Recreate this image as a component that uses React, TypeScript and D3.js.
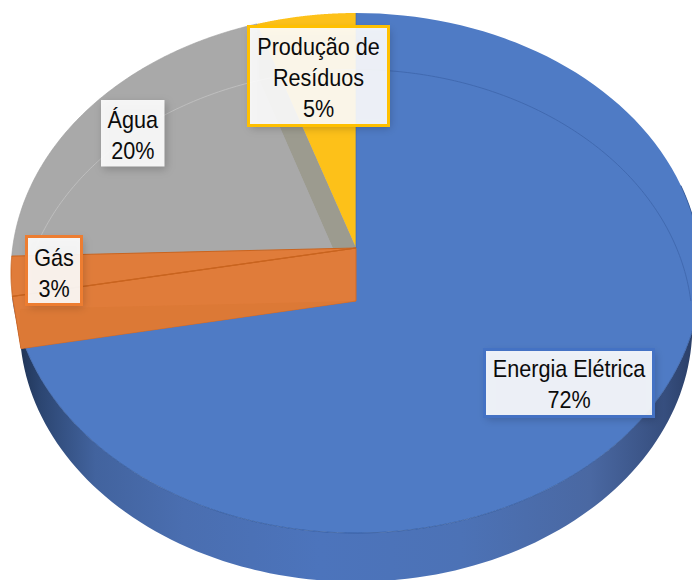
import React from "react";
import * as d3 from "d3";

const categories = ["Energia Elétrica", "Gás", "Água", "Produção de Resíduos"];
const shares = [72.05, 2.45, 20.4, 5.1];
const percentLabels = ["72%", "3%", "20%", "5%"];
const colors = ["#4f7bc5", "#e07c3a", "#a9a9a9", "#fdc119"];
const borders = ["#4472c4", "#ed7d31", "#a5a5a5", "#ffc000"];
const labelLines = [["Energia Elétrica"], ["Gás"], ["Água"], ["Produção de", "Resíduos"]];

const width = 692;
const height = 580;

// pie seen in perspective: nearer points get bigger
const apex = { x: 356, y: 248 };
const depth = 53;
const k = 0.0962;

const project = (angle: number, r = 1, lower = false) => {
  const x = Math.sin(angle) * r;
  const y = -Math.cos(angle) * r;
  const w = 1 - k * y;
  const shrinkX = lower ? 0.975 : 1;
  const shrinkY = lower ? 0.985 : 1;
  return [
    apex.x + (343.4 * shrinkX * x) / w,
    apex.y + (lower ? depth : 0) + (257.6 * shrinkY * y) / w,
  ] as [number, number];
};

const line = d3.line();
const arcPoints = (a0: number, a1: number, lower = false) =>
  d3.range(0, 121).map((i) => project(a0 + ((a1 - a0) * i) / 120, 1, lower));

const App = () => {
  const arcs = d3.pie<number>().sort(null)(shares);
  const [blue, orange, grey, yellow] = arcs;

  const wedge = (d: d3.PieArcDatum<number>, lower = false) => [
    project(0, 0, lower),
    ...arcPoints(d.startAngle, d.endAngle, lower),
  ];

  const wallStart = Math.PI * 0.42;
  const wall = [
    ...arcPoints(wallStart, blue.endAngle),
    ...arcPoints(wallStart, blue.endAngle, true).reverse(),
  ];

  // cut faces seen through the top of the pie
  const greyWall = [
    project(0, 0),
    project(0, 0, true),
    project(grey.endAngle, 1, true),
    project(grey.endAngle),
  ];
  const orangeWall = [
    project(0, 0),
    project(0, 0, true),
    project(blue.endAngle, 1, true),
    project(blue.endAngle),
  ];

  const boxes = [
    { x: 484.5, y: 349.5, w: 169, h: 67, first: 377, step: 31 },
    { x: 26.5, y: 236.5, w: 55, h: 68, first: 266, step: 31 },
    { x: 101, y: 100, w: 63.5, h: 66.5, first: 128, step: 31 },
    { x: 248.5, y: 26.5, w: 140, h: 99, first: 55, step: 31 },
  ];

  return (
    <svg
      width={width}
      height={height}
      style={{ position: "absolute", left: 0, top: 0, background: "#fff" }}
    >
      <defs>
        <linearGradient id="side" gradientUnits="userSpaceOnUse" x1={14} x2={692} y1={0} y2={0}>
          <stop offset="0" stopColor="#1d3050" />
          <stop offset="0.04" stopColor="#2c4672" />
          <stop offset="0.12" stopColor="#42639e" />
          <stop offset="0.25" stopColor="#4a6eb0" />
          <stop offset="0.45" stopColor="#4c74bc" />
          <stop offset="0.66" stopColor="#4c72b6" />
          <stop offset="0.85" stopColor="#4a68a2" />
          <stop offset="0.96" stopColor="#364e7e" />
          <stop offset="1" stopColor="#2b3f68" />
        </linearGradient>
        <filter id="soft" x="-20%" y="-20%" width="140%" height="140%">
          <feGaussianBlur stdDeviation="4" />
        </filter>
      </defs>

      <path d={line(wall) + "Z"} fill="url(#side)" />

      <path d={line(wedge(grey)) + "Z"} fill={colors[2]} stroke="#9c9c9c" strokeWidth={0.6} />
      <path d={line(wedge(yellow)) + "Z"} fill={colors[3]} />
      <path d={line(greyWall) + "Z"} fill="#9c9b8f" />
      <path d={line(wedge(grey, true)) + "Z"} fill={colors[2]} />
      <path d={line(wedge(blue)) + "Z"} fill={colors[0]} />
      <path
        d={line(arcPoints(orange.endAngle + 0.06, Math.PI * 2, true)) ?? ""}
        fill="none"
        stroke="#c8c8c8"
        strokeOpacity={0.7}
      />
      <path
        d={line(arcPoints(0, Math.PI * 0.5, true)) ?? ""}
        fill="none"
        stroke="#3f67ad"
        strokeOpacity={0.9}
      />
      <path d={line(arcPoints(wallStart, blue.endAngle)) ?? ""} fill="none" stroke="#2f5597" strokeOpacity={0.7} />
      <path d={line([project(0, 0), project(0, 1)]) ?? ""} stroke="#3c64aa" strokeOpacity={0.6} />

      <path d={line(orangeWall) + "Z"} fill={colors[1]} stroke="#d06a28" strokeWidth={1} />
      <path d={line(wedge(orange)) + "Z"} fill={colors[1]} stroke="#c9641f" strokeWidth={1} />
      <path d={line(wedge(orange, true)) + "Z"} fill="#dc7936" />
      <path d={line([project(0, 0), project(blue.endAngle)]) ?? ""} stroke="#c9641f" strokeWidth={1.2} />

      {boxes.map((b, i) => (
        <g key={categories[i]}>
          <rect
            x={b.x + 2}
            y={b.y + 3}
            width={b.w}
            height={b.h}
            fill="#000"
            fillOpacity={0.2}
            filter="url(#soft)"
          />
          <rect
            x={b.x}
            y={b.y}
            width={b.w}
            height={b.h}
            fill="#fff"
            fillOpacity={0.9}
            stroke={borders[i]}
            strokeWidth={i === 2 ? 0 : 3}
          />
          <text
            textAnchor="middle"
            fontFamily="'Liberation Sans', Arial, sans-serif"
            fontSize={24}
            fill="#0b0b0b"
            transform={`translate(${b.x + b.w / 2},0) scale(0.9,1)`}
          >
            {[...labelLines[i], percentLabels[i]].map((t, j) => (
              <tspan key={t} x={0} y={b.first + j * b.step}>
                {t}
              </tspan>
            ))}
          </text>
        </g>
      ))}
    </svg>
  );
};

export default App;
